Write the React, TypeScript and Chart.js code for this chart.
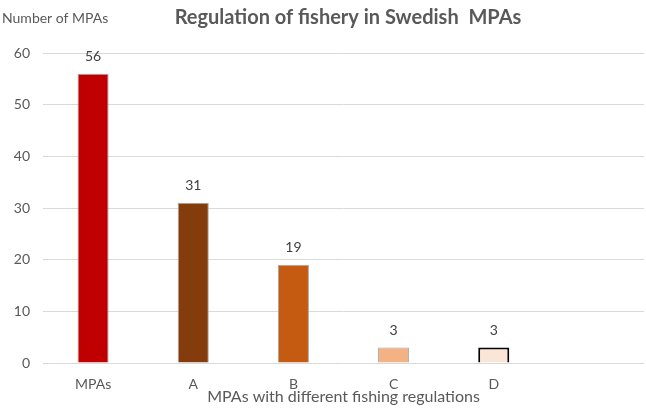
import React, { useEffect, useRef } from "react";
import { Chart, registerables } from "chart.js";

Chart.register(...registerables);

const categories = ["MPAs", "A", "B", "C", "D", ""];
const values = [56, 31, 19, 3, 3, null];
const barColors = ["#C00000", "#843C0C", "#C55A11", "#F4B183", "#FBE5D6", "#FFFFFF"];
const borderColors = ["#A6A6A6", "#A6A6A6", "#A6A6A6", "#A6A6A6", "#000000", "#FFFFFF"];
const borderWidths = [1, 1, 1, 1, 2, 0];
const yTicks = [0, 10, 20, 30, 40, 50, 60];

const chartTitle = "Regulation of fishery in Swedish  MPAs";
const yTitle = "Number of MPAs";
const xTitle = "MPAs with different fishing regulations";

const FONT = "Lato, 'Open Sans', sans-serif";

const textPlugin = {
  id: "texts",
  afterDatasetsDraw(chart: any) {
    const ctx = chart.ctx;
    const area = chart.chartArea;
    ctx.save();
    const meta = chart.getDatasetMeta(0);
    ctx.fillStyle = "#404040";
    ctx.font = `14px ${FONT}`;
    ctx.textAlign = "center";
    ctx.textBaseline = "middle";
    meta.data.forEach((bar: any, i: number) => {
      const v = values[i];
      if (v == null) return;
      ctx.fillText(String(v), bar.x, bar.y - 17);
    });
    ctx.fillStyle = "#595959";
    ctx.font = `bold 20px ${FONT}`;
    ctx.fillText(chartTitle, 348, 18);
    ctx.font = `14px ${FONT}`;
    ctx.textAlign = "left";
    ctx.fillText(yTitle, 2, 18);
    ctx.font = `16px ${FONT}`;
    ctx.textAlign = "center";
    ctx.fillText(xTitle, (area.left + area.right) / 2, 397);
    ctx.restore();
  },
};

export default function App() {
  const ref = useRef<HTMLCanvasElement | null>(null);
  useEffect(() => {
    document.body.style.margin = "0";
    const canvas = ref.current!;
    const chart = new Chart(canvas, {
      type: "bar",
      data: {
        labels: categories,
        datasets: [
          {
            data: values as any,
            backgroundColor: barColors,
            borderColor: borderColors,
            borderWidth: borderWidths,
            barPercentage: 0.31,
            categoryPercentage: 1,
          },
        ],
      },
      options: {
        animation: false,
        responsive: false,
        maintainAspectRatio: false,
        layout: { padding: { top: 53, right: 2, left: 0, bottom: 0 } },
        plugins: {
          legend: { display: false },
          title: { display: false },
          tooltip: { enabled: false },
        },
        scales: {
          x: {
            grid: { display: false },
            border: { display: false },
            ticks: {
              color: "#595959",
              font: { family: FONT, size: 14 },
              padding: 5,
              maxRotation: 0,
            },
            afterFit: (s: any) => {
              s.height = 45;
            },
          },
          y: {
            min: 0,
            max: 60,
            afterBuildTicks: (s: any) => {
              s.ticks = yTicks.map((v) => ({ value: v }));
            },
            grid: { color: "#D9D9D9", drawTicks: false, lineWidth: 1 },
            border: { display: false },
            ticks: {
              color: "#595959",
              font: { family: FONT, size: 14 },
              padding: 13,
            },
            afterFit: (s: any) => {
              s.width = 43;
            },
          },
        },
      },
      plugins: [textPlugin],
    });
    return () => chart.destroy();
  }, []);
  return <canvas ref={ref} width={646} height={408} style={{ display: "block" }} />;
}
